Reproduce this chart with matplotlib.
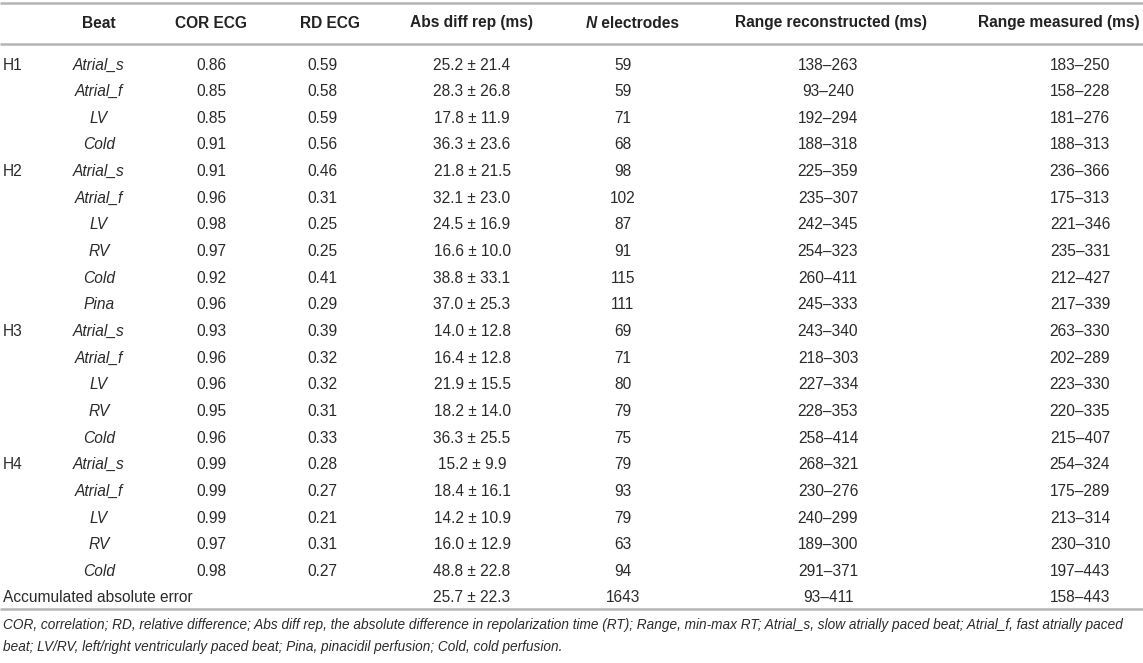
import matplotlib
matplotlib.use('Agg')
import matplotlib.pyplot as plt

plt.rcParams['font.family'] = ['Liberation Sans', 'DejaVu Sans']

# table content
heart = ['H1', '', '', '',
         'H2', '', '', '', '', '',
         'H3', '', '', '', '',
         'H4', '', '', '', '']
beat = ['Atrial_s', 'Atrial_f', 'LV', 'Cold',
        'Atrial_s', 'Atrial_f', 'LV', 'RV', 'Cold', 'Pina',
        'Atrial_s', 'Atrial_f', 'LV', 'RV', 'Cold',
        'Atrial_s', 'Atrial_f', 'LV', 'RV', 'Cold']
cor_ecg = [0.86, 0.85, 0.85, 0.91,
           0.91, 0.96, 0.98, 0.97, 0.92, 0.96,
           0.93, 0.96, 0.96, 0.95, 0.96,
           0.99, 0.99, 0.99, 0.97, 0.98]
rd_ecg = [0.59, 0.58, 0.59, 0.56,
          0.46, 0.31, 0.25, 0.25, 0.41, 0.29,
          0.39, 0.32, 0.32, 0.31, 0.33,
          0.28, 0.27, 0.21, 0.31, 0.27]
abs_mean = [25.2, 28.3, 17.8, 36.3,
            21.8, 32.1, 24.5, 16.6, 38.8, 37.0,
            14.0, 16.4, 21.9, 18.2, 36.3,
            15.2, 18.4, 14.2, 16.0, 48.8]
abs_sd = [21.4, 26.8, 11.9, 23.6,
          21.5, 23.0, 16.9, 10.0, 33.1, 25.3,
          12.8, 12.8, 15.5, 14.0, 25.5,
          9.9, 16.1, 10.9, 12.9, 22.8]
n_electrodes = [59, 59, 71, 68,
                98, 102, 87, 91, 115, 111,
                69, 71, 80, 79, 75,
                79, 93, 79, 63, 94]
range_rec = [(138, 263), (93, 240), (192, 294), (188, 318),
             (225, 359), (235, 307), (242, 345), (254, 323), (260, 411), (245, 333),
             (243, 340), (218, 303), (227, 334), (228, 353), (258, 414),
             (268, 321), (230, 276), (240, 299), (189, 300), (291, 371)]
range_meas = [(183, 250), (158, 228), (181, 276), (188, 313),
              (236, 366), (175, 313), (221, 346), (235, 331), (212, 427), (217, 339),
              (263, 330), (202, 289), (223, 330), (220, 335), (215, 407),
              (254, 324), (175, 289), (213, 314), (230, 310), (197, 443)]
total_label = 'Accumulated absolute error'
total_abs = (25.7, 22.3)
total_n = 1643
total_rec = (93, 411)
total_meas = (158, 443)

footnote = ['COR, correlation; RD, relative difference; Abs diff rep, the absolute difference in '
            'repolarization time (RT); Range, min-max RT; Atrial_s, slow atrially paced beat; '
            'Atrial_f, fast atrially paced',
            'beat; LV/RV, left/right ventricularly paced beat; Pina, pinacidil perfusion; '
            'Cold, cold perfusion.']

W, H = 1143, 663
fig = plt.figure(figsize=(W / 100, H / 100), dpi=100)
ax = fig.add_axes([0, 0, 1, 1])
ax.set_xlim(0, W)
ax.set_ylim(H, 0)
ax.axis('off')

fs = 11.2
txt = '#222222'
body = '#2a2a2a'
line_col = '#b4b4b4'

# column centres (pixels)
col_x = [99, 211, 322, 472, 623, 828, 1080]
head_x = [99, 211, 330, 472, 632, 831, 1059]

# rules
for yy in (3, 44, 609):
    ax.plot([0, W], [yy, yy], color=line_col, lw=1.8, solid_capstyle='butt')

# header
hy = 23
heads = ['Beat', 'COR ECG', 'RD ECG', 'Abs diff rep (ms)', None,
         'Range reconstructed (ms)', 'Range measured (ms)']
for x, h in zip(head_x, heads):
    if h is not None:
        ax.text(x, hy, h, ha='center', va='center', fontsize=fs, fontweight='bold', color=txt)

# "N electrodes" with italic N
r = fig.canvas.get_renderer()
t1 = ax.text(0, hy, 'N', ha='left', va='center', fontsize=fs, fontweight='bold',
             style='italic', color=txt)
t2 = ax.text(0, hy, ' electrodes', ha='left', va='center', fontsize=fs,
             fontweight='bold', color=txt)
w1 = t1.get_window_extent(r).width
w2 = t2.get_window_extent(r).width
x0 = head_x[4] - (w1 + w2) / 2
t1.set_x(x0)
t2.set_x(x0 + w1)

# body rows
y0, dy = 65, 26.65
for i in range(len(beat)):
    y = y0 + i * dy
    if heart[i]:
        ax.text(3, y, heart[i], ha='left', va='center', fontsize=fs, color=body)
    ax.text(col_x[0], y, beat[i], ha='center', va='center', fontsize=fs,
            style='italic', color=body)
    ax.text(col_x[1], y, f'{cor_ecg[i]:.2f}', ha='center', va='center', fontsize=fs, color=body)
    ax.text(col_x[2], y, f'{rd_ecg[i]:.2f}', ha='center', va='center', fontsize=fs, color=body)
    ax.text(col_x[3], y, f'{abs_mean[i]:.1f} \u00b1 {abs_sd[i]:.1f}', ha='center',
            va='center', fontsize=fs, color=body)
    ax.text(col_x[4], y, str(n_electrodes[i]), ha='center', va='center', fontsize=fs, color=body)
    ax.text(col_x[5], y, f'{range_rec[i][0]}\u2013{range_rec[i][1]}', ha='center',
            va='center', fontsize=fs, color=body)
    ax.text(col_x[6], y, f'{range_meas[i][0]}\u2013{range_meas[i][1]}', ha='center',
            va='center', fontsize=fs, color=body)

y = y0 + len(beat) * dy
ax.text(3, y, total_label, ha='left', va='center', fontsize=fs, color=body)
ax.text(col_x[3], y, f'{total_abs[0]:.1f} \u00b1 {total_abs[1]:.1f}', ha='center',
        va='center', fontsize=fs, color=body)
ax.text(col_x[4], y, str(total_n), ha='center', va='center', fontsize=fs, color=body)
ax.text(col_x[5], y, f'{total_rec[0]}\u2013{total_rec[1]}', ha='center', va='center',
        fontsize=fs, color=body)
ax.text(col_x[6], y, f'{total_meas[0]}\u2013{total_meas[1]}', ha='center', va='center',
        fontsize=fs, color=body)

# footnote
for k, line in enumerate(footnote):
    ax.text(3, 625 + k * 21.5, line, ha='left', va='center', fontsize=9.8,
            style='italic', color=body)

fig.savefig('out.png', dpi=100)
